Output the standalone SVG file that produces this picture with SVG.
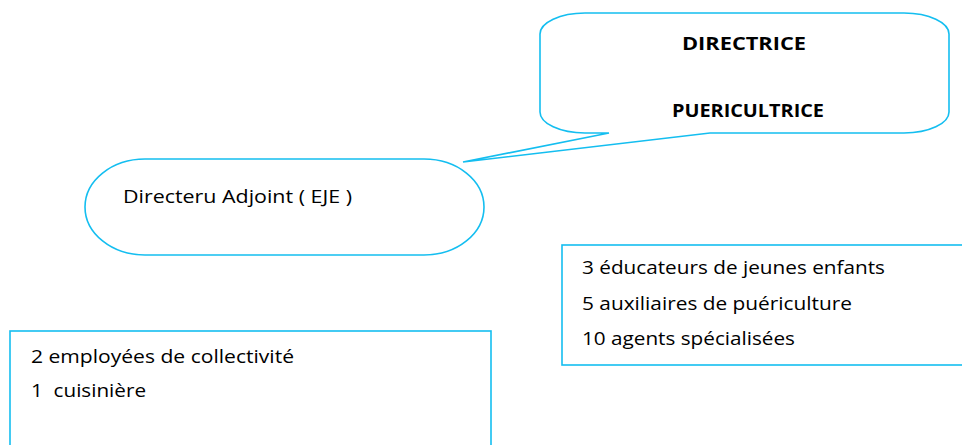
<svg xmlns="http://www.w3.org/2000/svg" width="962" height="445" viewBox="0 0 962 445">
<style>
.s{fill:#fff;stroke:#14BEF0;stroke-width:1.6}
.t{font-family:"Open Sans","Liberation Sans",Arial,sans-serif;font-size:18px;fill:#000;white-space:pre}
.b{font-family:"Open Sans","Liberation Sans",Arial,sans-serif;font-size:18px;font-weight:bold;fill:#000}
</style>
<rect width="962" height="445" fill="#fff"/>
<g id="directrice">
<path class="s" d="M585,13 H904 A45,21 0 0 1 949,34 V112 A45,21 0 0 1 904,133 H710 L463,162 L609,133 H585 A45,21 0 0 1 540,112 V34 A45,21 0 0 1 585,13 Z"/>
<text class="b" x="682" y="50" textLength="124" lengthAdjust="spacingAndGlyphs">DIRECTRICE</text>
<text class="b" x="672" y="117" textLength="152" lengthAdjust="spacingAndGlyphs">PUERICULTRICE</text>
</g>
<g id="adjoint">
<rect class="s" x="85" y="159" width="399" height="96" rx="60" ry="48"/>
<text class="t" x="123" y="203" textLength="229" lengthAdjust="spacingAndGlyphs">Directeru Adjoint ( EJE )</text>
</g>
<g id="equipe">
<rect class="s" x="562" y="245" width="410" height="120"/>
<text class="t" x="582" y="274" textLength="303" lengthAdjust="spacingAndGlyphs">3 éducateurs de jeunes enfants</text>
<text class="t" x="582" y="310" textLength="270" lengthAdjust="spacingAndGlyphs">5 auxiliaires de puériculture</text>
<text class="t" x="582" y="345" textLength="213" lengthAdjust="spacingAndGlyphs">10 agents spécialisées</text>
</g>
<g id="service">
<rect class="s" x="10" y="331" width="481" height="130"/>
<text class="t" x="31" y="363" textLength="263" lengthAdjust="spacingAndGlyphs">2 employées de collectivité</text>
<text class="t" x="31" y="397" textLength="115" lengthAdjust="spacingAndGlyphs" xml:space="preserve">1  cuisinière</text>
</g>
<g id="connectors"></g>
</svg>
